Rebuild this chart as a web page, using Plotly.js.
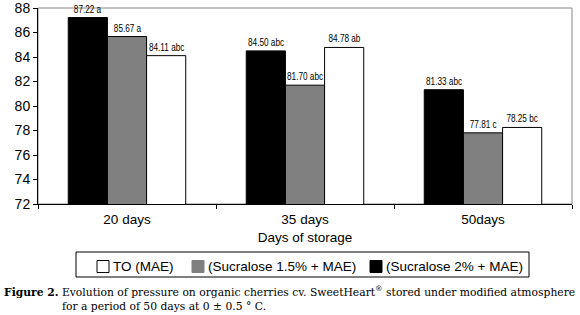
<!DOCTYPE html>
<html><head><meta charset="utf-8">
<script src="https://cdn.plot.ly/plotly-3.0.1.min.js"></script>
<style>html,body{margin:0;padding:0;background:#fff;}#chart{width:580px;height:315px;}</style>
</head><body><div id="chart"></div>
<script>
const categories = ["20 days", "35 days", "50days"];
const sucralose2 = [87.22, 84.50, 81.33];
const sucralose2Labels = ["87.22 a", "84.50 abc", "81.33 abc"];
const sucralose15 = [85.67, 81.70, 77.81];
const sucralose15Labels = ["85.67 a", "81.70 abc", "77.81 c"];
const to = [84.11, 84.78, 78.25];
const toLabels = ["84.11 abc", "84.78 ab", "78.25 bc"];
const yTicks = [72, 74, 76, 78, 80, 82, 84, 86, 88];
const legendNames = ["TO (MAE)", "(Sucralose 1.5% + MAE)", "(Sucralose 2% + MAE)"];
const legendColors = ["#ffffff", "#808080", "#000000"];

const W = 580, H = 315, M = {l: 38, r: 8, t: 8, b: 111};
const PW = W - M.l - M.r, PH = H - M.t - M.b;
const px = v => (v - M.l) / PW;
const py = v => (H - M.b - v) / PH;
const BARGAP = 0.34;
const barW = PW / categories.length * (1 - BARGAP) / 3;

function mk(name, y, fill) {
  return {type: "bar", name: name, x: categories, y: y,
    marker: {color: fill, line: {color: "#000", width: 1}}, hoverinfo: "none", showlegend: false};
}
const series = [
  {name: legendNames[2], y: sucralose2, text: sucralose2Labels, color: legendColors[2]},
  {name: legendNames[1], y: sucralose15, text: sucralose15Labels, color: legendColors[1]},
  {name: legendNames[0], y: to, text: toLabels, color: legendColors[0]}
];
const data = series.map(s => mk(s.name, s.y, s.color));

const labelFont = {family: "Liberation Sans Narrow, Arial Narrow, Liberation Sans, Arial", size: 10.5, color: "#000"};
const annotations = [];
series.forEach((s, i) => {
  categories.forEach((c, j) => {
    annotations.push({x: c, y: s.y[j], xref: "x", yref: "y", text: s.text[j], showarrow: false,
      xanchor: "center", yanchor: "bottom", xshift: (i - 1) * barW, yshift: 1, font: labelFont});
  });
});
const nBarLabels = annotations.length;

// manual legend box (layout decoration, not data)
const shapes = [
  {type: "rect", xref: "paper", yref: "paper", x0: 0, x1: 1, y0: 0, y1: 1, line: {color: "#888", width: 1}, layer: "below"},
  {type: "rect", xref: "paper", yref: "paper", x0: px(76), x1: px(529), y0: py(252), y1: py(277), line: {color: "#000", width: 1}}
];
const legSq = [97, 192, 370];
legendNames.forEach((n, i) => {
  shapes.push({type: "rect", xref: "paper", yref: "paper", x0: px(legSq[i]), x1: px(legSq[i] + 12),
    y0: py(260.5), y1: py(272.5), fillcolor: legendColors[i], line: {color: i === 1 ? "#808080" : "#000", width: 1}});
  annotations.push({xref: "paper", yref: "paper", x: px(legSq[i] + 14), y: py(266.5), xanchor: "left", yanchor: "middle",
    showarrow: false, text: n, font: {family: "Liberation Sans, Arial", size: 13.5, color: "#000"}});
});
const capFont = {family: "DejaVu Serif, Liberation Serif, serif", size: 10.75, color: "#000"};
annotations.push({xref: "paper", yref: "paper", x: px(2), y: py(291), xanchor: "left", yanchor: "middle", showarrow: false,
  font: capFont, text: "<b>Figure 2.</b> Evolution of pressure on organic cherries cv. SweetHeart<sup>®</sup> stored under modified atmosphere"});
annotations.push({xref: "paper", yref: "paper", x: px(60), y: py(306), xanchor: "left", yanchor: "middle", showarrow: false,
  font: capFont, text: "for a period of 50 days at 0 ± 0.5 ° C."});

const layout = {
  width: W, height: H, margin: M,
  paper_bgcolor: "#fff", plot_bgcolor: "#fff",
  barmode: "group", bargap: BARGAP, bargroupgap: 0,
  font: {family: "Liberation Sans, Arial", size: 13, color: "#000"},
  xaxis: {type: "category", tickson: "boundaries", ticks: "outside", ticklen: 4,
    tickcolor: "#000", showline: true, linecolor: "#000", linewidth: 1,
    ticklabelstandoff: 3, tickfont: {size: 13.5},
    title: {text: "Days of storage", font: {size: 13.5}, standoff: 6}},
  yaxis: {range: [72, 88], tickvals: yTicks, ticks: "outside", ticklen: 4, tickcolor: "#000",
    showline: true, linecolor: "#000", linewidth: 1, showgrid: false, zeroline: false,
    ticklabeloverflow: "allow", tickfont: {size: 14}},
  showlegend: false,
  shapes: shapes,
  annotations: annotations
};
Plotly.newPlot("chart", data, layout, {displayModeBar: false, staticPlot: true}).then(gd => {
  // condense the bar value labels horizontally (reference uses a narrow face)
  const texts = gd.querySelectorAll(".annotation .annotation-text");
  for (let k = 0; k < nBarLabels && k < texts.length; k++) {
    const t = texts[k];
    const len = t.getComputedTextLength();
    t.setAttribute("textLength", (len * 0.78).toFixed(1));
    t.setAttribute("lengthAdjust", "spacingAndGlyphs");
  }
});
</script></body></html>
